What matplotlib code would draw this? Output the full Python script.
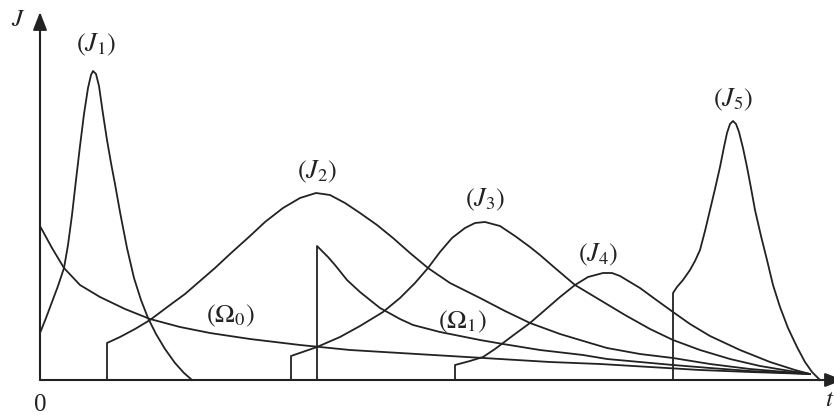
import matplotlib
matplotlib.use("Agg")
import matplotlib.pyplot as plt

plt.rcParams.update({"font.family": "Liberation Serif", "mathtext.fontset": "stix"})

# current pulses J1..J5 and decaying tails Omega0, Omega1 (t, J in drawing units)
J1_t = [0, 6, 12, 18, 24, 28, 32, 36, 40, 44, 48, 51, 53, 56, 59, 63, 67, 71, 75, 80,
        87, 94, 101, 108, 116, 125, 135, 144, 152]
J1_J = [47, 62, 78, 94, 112, 135, 165, 200, 234, 266, 292, 305, 309, 306, 294, 266, 240,
        217, 196, 168, 132, 102, 80, 62, 46, 31, 17, 7, 0]

J2_t = [67, 67, 80, 95, 110, 130, 145, 160, 175, 190, 210, 225, 243, 260, 276, 290, 305,
        320, 337, 353, 370, 388, 410, 440, 465, 490, 520, 550, 567, 600, 633, 670, 710, 770]
J2_J = [0, 37, 43, 51, 60, 75, 86, 99, 112, 126, 144, 158, 172, 182, 187, 185, 177, 167,
        155, 142, 127, 112, 97, 82, 69, 57, 46, 37, 32, 26, 22, 16, 11, 6]

J3_t = [251, 251, 277, 300, 320, 343, 360, 375, 388, 400, 412, 425, 435, 445, 460, 475,
        490, 500, 515, 535, 560, 585, 610, 633, 660, 690, 720, 750, 770]
J3_J = [0, 24, 33, 43, 54, 68, 82, 97, 112, 128, 142, 152, 157, 158, 154, 144, 133, 125,
        112, 95, 80, 65, 51, 40, 30, 21, 14, 9, 6]

J4_t = [415, 415, 430, 443, 455, 463, 475, 490, 505, 520, 535, 548, 563, 572, 580, 600,
        615, 633, 650, 670, 700, 730, 755, 770]
J4_J = [0, 15, 19, 23, 31, 37, 46, 57, 70, 83, 95, 103, 107, 107, 104, 92, 81, 68, 56, 44,
        30, 18, 10, 6]

J5_t = [633, 633, 637, 643, 650, 655, 660, 665, 670, 675, 680, 684, 687, 690, 693, 696,
        699, 703, 707, 711, 715, 721, 727, 733, 740, 748, 757, 765, 772, 780]
J5_J = [0, 87, 93, 100, 110, 119, 130, 149, 170, 191, 213, 233, 247, 256, 259, 256, 248,
        232, 213, 192, 170, 144, 120, 95, 73, 52, 33, 18, 8, 0]

O0_t = [0, 12, 24, 40, 60, 85, 110, 140, 170, 210, 260, 310, 360, 410, 460, 510, 560, 610,
        660, 710, 770]
O0_J = [154, 132, 112, 95, 83, 71, 61, 53, 47, 41, 35, 30, 27, 24, 21, 18, 16, 13, 10, 8, 6]

O1_t = [277, 277, 282, 288, 295, 307, 320, 340, 360, 373, 400, 440, 463, 500, 543, 567,
        600, 633, 670, 710, 770]
O1_J = [0, 134, 129, 123, 115, 100, 88, 72, 61, 55, 48, 40, 36, 30, 25, 21, 18, 15, 12, 9, 6]

curve_labels = [r"$(J_1)$", r"$(J_2)$", r"$(J_3)$", r"$(J_4)$", r"$(J_5)$",
                r"$(\Omega_0)$", r"$(\Omega_1)$"]
label_t = [56, 277, 445, 558, 693, 190, 422]
label_J = [335, 208, 180, 125, 280, 64, 58]

INK = "#222222"

fig = plt.figure(figsize=(8.34, 4.15), dpi=100)
ax = fig.add_axes([0, 0, 1, 1])
ax.set_xlim(-40, 794)
ax.set_ylim(-35, 380)
ax.axis("off")

for t, j in [(J1_t, J1_J), (J2_t, J2_J), (J3_t, J3_J), (J4_t, J4_J),
             (J5_t, J5_J), (O0_t, O0_J), (O1_t, O1_J)]:
    ax.plot(t, j, color=INK, lw=1.3, solid_joinstyle="round")

# axes with arrow heads
arrow = dict(arrowstyle="-|>,head_length=0.9,head_width=0.35", mutation_scale=12,
             color=INK, lw=1.5, shrinkA=0, shrinkB=0)
ax.annotate("", xy=(0, 368), xytext=(0, 0), arrowprops=arrow)
ax.annotate("", xy=(803, 0), xytext=(0, 0), arrowprops=arrow, annotation_clip=False)

for s, t, j in zip(curve_labels, label_t, label_J):
    ax.text(t, j, s, fontsize=19, ha="center", va="center", color=INK)

ax.text(-22, 360, r"$J$", fontsize=18, ha="center", va="center", color=INK)
ax.text(0, -25, "0", fontsize=18, ha="center", va="center", color=INK)
ax.text(785, -20, r"$t$", fontsize=18, ha="left", va="center", color=INK)

fig.savefig("out.png", dpi=100)
